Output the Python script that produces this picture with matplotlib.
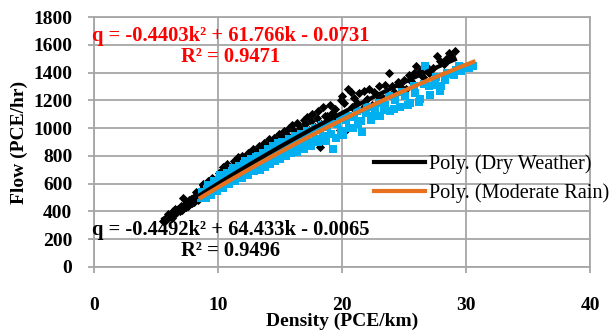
import numpy as np
import matplotlib
matplotlib.use('Agg')
import matplotlib.pyplot as plt

# Dry weather observations (density PCE/km, flow PCE/hr)
dry_k = [5.6, 5.9, 6.2, 6.4, 6.6, 6.8, 7.0, 7.1, 7.3, 7.5, 7.6, 7.8, 8.0, 8.1, 8.3,
         8.4, 8.6, 8.7, 8.9, 9.0, 9.1, 9.3, 9.4, 9.6, 9.7, 9.9, 10.0, 10.2, 10.3,
         10.5, 10.6, 10.8, 10.9, 11.1, 11.2, 11.4, 11.5, 11.7, 11.8, 12.0, 12.2,
         12.3, 12.5, 12.7, 12.9, 13.0, 13.2, 13.4, 13.6, 13.8, 14.0, 14.2, 14.4,
         14.6, 14.8, 15.0, 15.2, 15.4, 15.6, 15.9, 16.1, 16.3, 16.6, 16.8, 17.0,
         17.3, 17.5, 17.8, 18.0, 18.3, 18.6, 18.9, 19.2, 19.5, 19.8, 20.2, 20.4,
         20.5, 20.8, 21.2, 21.6, 22.0, 22.4, 22.8, 23.3, 23.8, 24.2, 24.7, 25.2,
         25.6, 26.0, 26.5, 27.0, 27.7, 28.2, 28.6, 29.1, 7.2, 8.8, 10.4, 12.6,
         5.8, 6.0, 6.3, 6.5, 6.9, 7.4, 7.7, 7.9, 8.2, 8.5, 8.8, 9.2, 9.5, 9.8,
         10.1, 10.4, 10.7, 11.0, 11.3, 11.6, 11.9, 12.1, 12.4, 12.8, 13.1, 13.3,
         13.7, 13.9, 14.1, 14.5, 14.9, 15.3, 15.7, 16.0, 16.4, 16.9, 17.2, 17.6,
         18.1, 18.2, 18.5, 18.8, 19.0, 19.4, 19.9, 20.0, 20.7, 21.0, 21.4, 21.8,
         22.2, 22.6, 23.0, 23.5, 24.0, 24.5, 25.0, 25.4, 25.8, 26.3, 26.8, 27.3,
         27.9, 28.4, 28.8]
dry_q = [330, 360, 370, 400, 390, 420, 440, 410, 450, 470, 440, 490, 500, 470, 520,
         480, 540, 560, 530, 580, 550, 600, 570, 620, 590, 640, 610, 660, 630,
         690, 650, 700, 670, 720, 690, 740, 710, 770, 730, 760, 790, 750, 800,
         780, 820, 790, 840, 810, 860, 830, 880, 850, 900, 870, 910, 890, 940,
         900, 950, 930, 980, 950, 1000, 970, 1030, 990, 1050, 1010, 1070, 1030,
         1090, 1050, 1110, 1080, 986, 1180, 993, 1285, 1150, 1180, 1140, 1210,
         1170, 1240, 1220, 1395, 1260, 1300, 1280, 1340, 1445, 1370, 1400, 1520,
         1460, 1540, 1555, 500, 590, 700, 830,
         340, 380, 350, 420, 400, 430, 480, 460, 540, 510, 600, 620, 640, 600,
         680, 720, 740, 700, 760, 790, 800, 740, 820, 850, 810, 870,
         890, 860, 920, 930, 960, 980, 1000, 1020, 1040, 1060, 1080, 1100,
         1120, 865, 1150, 1090, 1170, 1140, 1200, 1230, 1260, 1220, 1250, 1270,
         1280, 1260, 1300, 1310, 1300, 1330, 1350, 1380, 1400, 1410, 1450, 1430,
         1480, 1500, 1520]

# Moderate rain observations
rain_k = [8.6, 8.9, 9.1, 9.3, 9.5, 9.6, 9.8, 10.0, 10.1, 10.3, 10.5, 10.6, 10.8,
          11.0, 11.1, 11.3, 11.5, 11.6, 11.8, 12.0, 12.1, 12.3, 12.5, 12.6, 12.8,
          13.0, 13.1, 13.3, 13.5, 13.7, 13.9, 14.1, 14.3, 14.5, 14.7, 14.9, 15.1,
          15.3, 15.6, 15.8, 16.0, 16.3, 16.5, 16.8, 17.0, 17.3, 17.6, 17.9, 18.2,
          18.5, 18.8, 19.1, 19.3, 19.6, 19.9, 20.3, 20.6, 21.0, 21.3, 21.6, 21.9,
          22.3, 22.7, 23.1, 23.5, 23.9, 24.3, 24.7, 25.1, 25.5, 25.9, 26.3, 26.7,
          27.1, 27.5, 27.9, 28.3, 28.7, 29.2, 29.6, 30.0, 30.6,
          8.7, 9.0, 9.2, 9.4, 9.7, 9.9, 10.2, 10.4, 10.7, 10.9, 11.2, 11.4, 11.7,
          11.9, 12.2, 12.4, 12.7, 12.9, 13.2, 13.4, 13.6, 13.8, 14.0, 14.2, 14.4,
          14.6, 14.8, 15.0, 15.2, 15.5, 15.7, 15.9, 16.2, 16.4, 16.7, 16.9, 17.2,
          17.5, 17.8, 18.1, 18.4, 18.7, 19.0, 19.5, 19.8, 20.1, 20.5, 20.9, 21.2,
          21.5, 22.0, 22.5, 23.0, 23.4, 23.8, 24.2, 24.8, 25.3, 25.8, 26.2, 26.6,
          27.0, 27.6, 28.0, 28.5, 29.0, 29.4, 30.2]
rain_q = [500, 520, 560, 540, 590, 560, 610, 580, 630, 600, 650, 610, 670,
          640, 690, 650, 700, 670, 720, 680, 740, 700, 760, 710, 770,
          730, 790, 740, 800, 760, 820, 770, 840, 790, 860, 810, 870,
          830, 890, 840, 910, 860, 930, 880, 950, 900, 970, 920, 990,
          940, 1010, 960, 850, 1030, 980, 1060, 1000, 1080, 1030, 970, 1110,
          1060, 1140, 1090, 1170, 1120, 1200, 1150, 1230, 1180, 1250, 1210, 1450,
          1240, 1310, 1270, 1350, 1390, 1420, 1410, 1440, 1450,
          540, 500, 590, 520, 620, 550, 660, 570, 680, 600, 710, 620, 730,
          640, 760, 660, 780, 690, 800, 700, 820, 720, 850, 740, 870,
          760, 890, 780, 900, 800, 920, 820, 940, 830, 960, 850, 980,
          870, 1000, 900, 1020, 910, 1040, 930, 1070, 950, 1090, 1000, 1120,
          1050, 1150, 1090, 1180, 1130, 1230, 1140, 1260, 1170, 1300, 1190, 1320,
          1300, 1370, 1300, 1400, 1380, 1450, 1430]

# trendline coefficients (a, b, c) for q = a k^2 + b k + c
dry_coef = [-0.4492, 64.433, -0.0065]
rain_coef = [-0.4403, 61.766, -0.0731]

plt.rcParams['font.family'] = ['Liberation Serif', 'DejaVu Serif']

fig = plt.figure(figsize=(6.14, 3.34), dpi=100)
ax = fig.add_axes([0.153, 0.2006, 0.808, 0.7484])

ax.scatter(dry_k, dry_q, marker='D', s=22, color='black', linewidths=0, zorder=3)
ax.scatter(rain_k, rain_q, marker='s', s=28, color='#00B0F0', linewidths=0, zorder=3)

kd = np.linspace(min(dry_k), max(dry_k), 100)
kr = np.linspace(min(rain_k), max(rain_k), 100)
ax.plot(kd, np.polyval(dry_coef, kd), color='black', lw=3, zorder=4,
        label='Poly. (Dry Weather)')
ax.plot(kr, np.polyval(rain_coef, kr), color='#E8711E', lw=3, zorder=5,
        label='Poly. (Moderate Rain)')

ax.set_xlim(0, 40)
ax.set_ylim(0, 1800)
ax.set_xticks(range(0, 41, 10))
ax.set_yticks(range(0, 1801, 200))
ax.grid(True, color='#A6A6A6', lw=1.3)
ax.set_axisbelow(True)
for sp in ax.spines.values():
    sp.set_color('#A6A6A6')
    sp.set_linewidth(1.3)
ax.tick_params(axis='both', length=4.5, width=1.3, color='#A6A6A6',
               labelsize=14)
ax.tick_params(axis='x', pad=17)
ax.tick_params(axis='y', pad=11)
for lab in ax.get_xticklabels() + ax.get_yticklabels():
    lab.set_fontweight('bold')

ax.set_xlabel('Density (PCE/km)', fontsize=14, fontweight='bold', labelpad=-1)
ax.set_ylabel('Flow (PCE/hr)', fontsize=14, fontweight='bold', labelpad=4)

ax.text(11.05, 1588, 'q = -0.4403k² + 61.766k - 0.0731\nR² = 0.9471', color='red',
        fontsize=14.8, fontweight='bold', ha='center', va='center',
        multialignment='center', linespacing=1.05)
ax.text(11.05, 191, 'q = -0.4492k² + 64.433k - 0.0065\nR² = 0.9496', color='black',
        fontsize=14.8, fontweight='bold', ha='center', va='center',
        multialignment='center', linespacing=1.05)

ax.legend(loc='upper left', bbox_to_anchor=(0.548, 0.485), frameon=False,
          fontsize=14.6, handlelength=2.5, handletextpad=0.22,
          borderaxespad=0, labelspacing=0.5)

fig.savefig('out.png', dpi=100)
